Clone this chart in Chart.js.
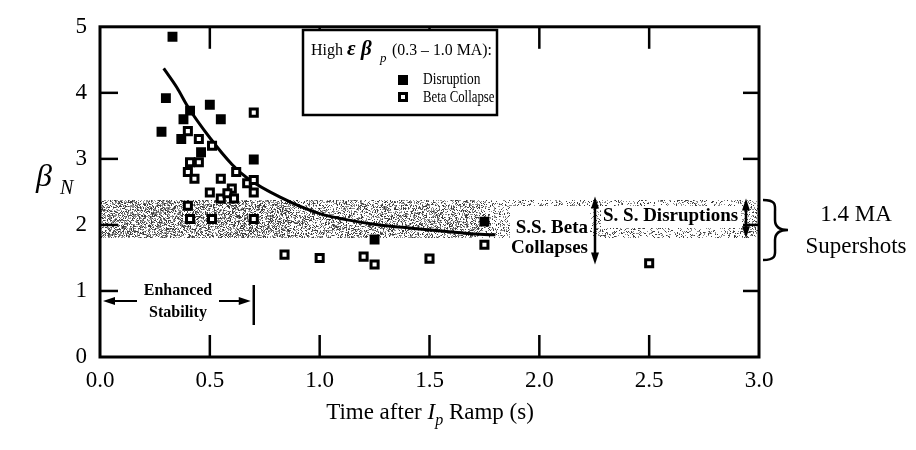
<!DOCTYPE html>
<html>
<head>
<meta charset="utf-8">
<script src="https://cdn.jsdelivr.net/npm/chart.js@4.4.1/dist/chart.umd.min.js"></script>
<style>
  html, body { margin: 0; padding: 0; background: #fff; }
  #wrap { width: 916px; height: 450px; }
</style>
</head>
<body>
<div id="wrap"><canvas id="c" width="916" height="450"></canvas></div>
<script>
// Time after the Ip ramp (s) and normalized beta for each shot
const disruptionT    = [0.33, 0.30, 0.41, 0.50, 0.38, 0.55, 0.28, 0.37, 0.46, 0.70, 1.25, 1.75];
const disruptionBeta = [4.85, 3.92, 3.73, 3.82, 3.60, 3.60, 3.41, 3.30, 3.10, 2.99, 1.78, 2.05];

const collapseT    = [0.70, 0.40, 0.45, 0.51, 0.41, 0.45, 0.40, 0.43, 0.55, 0.62, 0.67, 0.70, 0.70, 0.50,
                      0.55, 0.60, 0.58, 0.61, 0.40, 0.41, 0.51, 0.70, 0.84, 1.00, 1.20, 1.25, 1.50, 1.75, 2.50];
const collapseBeta = [3.70, 3.42, 3.30, 3.20, 2.95, 2.95, 2.80, 2.70, 2.70, 2.80, 2.63, 2.68, 2.49, 2.49,
                      2.40, 2.55, 2.48, 2.40, 2.29, 2.09, 2.09, 2.09, 1.55, 1.50, 1.52, 1.40, 1.49, 1.70, 1.42];

// Stability limit curve
const limitT    = [0.29, 0.35, 0.40, 0.50, 0.60, 0.67, 0.82, 1.00, 1.12, 1.27, 1.42, 1.58, 1.73, 1.80];
const limitBeta = [4.37, 4.08, 3.79, 3.32, 2.92, 2.71, 2.42, 2.17, 2.08, 2.00, 1.95, 1.90, 1.86, 1.85];

// Supershot operating band
const supershotBand = [1.80, 2.37];

// Axis ticks
const xTickValues = [0, 0.5, 1.0, 1.5, 2.0, 2.5, 3.0];
const xTickLabels = ['0.0', '0.5', '1.0', '1.5', '2.0', '2.5', '3.0'];
const yTickValues = [0, 1, 2, 3, 4, 5];
const yTickLabels = ['0', '1', '2', '3', '4', '5'];

const SERIF = '"Liberation Serif", "Times New Roman", serif';

function toPoints(xs, ys) { return xs.map((x, i) => ({ x: x, y: ys[i] })); }

// deterministic hash used for the halftone texture
function hash2(x, y) {
  let h = Math.imul(x, 374761393) ^ Math.imul(y, 668265263);
  h = Math.imul(h ^ (h >>> 13), 1274126177);
  h = h ^ (h >>> 16);
  return (h >>> 0) / 4294967296;
}

function arrowHead(ctx, x, y, dir, len, half) {
  // dir: 'l','r','u','d' -- tip at (x,y)
  ctx.beginPath();
  if (dir === 'l') { ctx.moveTo(x, y); ctx.lineTo(x + len, y - half); ctx.lineTo(x + len, y + half); }
  if (dir === 'r') { ctx.moveTo(x, y); ctx.lineTo(x - len, y - half); ctx.lineTo(x - len, y + half); }
  if (dir === 'u') { ctx.moveTo(x, y); ctx.lineTo(x - half, y + len); ctx.lineTo(x + half, y + len); }
  if (dir === 'd') { ctx.moveTo(x, y); ctx.lineTo(x - half, y - len); ctx.lineTo(x + half, y - len); }
  ctx.closePath();
  ctx.fill();
}

function vDoubleArrow(ctx, x, y1, y2) {
  ctx.lineWidth = 2.5;
  ctx.beginPath(); ctx.moveTo(x, y1 + 8); ctx.lineTo(x, y2 - 8); ctx.stroke();
  arrowHead(ctx, x, y1, 'u', 12, 4);
  arrowHead(ctx, x, y2, 'd', 12, 4);
}

// condensed text helper
function narrowText(ctx, text, x, y, sx) {
  ctx.save();
  ctx.translate(x, y);
  ctx.scale(sx, 1);
  ctx.fillText(text, 0, 0);
  ctx.restore();
}

const bandPlugin = {
  id: 'band',
  beforeDatasetsDraw(chart) {
    const { ctx, chartArea: a, scales: { x, y } } = chart;
    const top = Math.round(y.getPixelForValue(supershotBand[1]));
    const bot = Math.round(y.getPixelForValue(supershotBand[0]));
    const w = Math.round(a.right - a.left), h = bot - top;
    const off = document.createElement('canvas');
    off.width = w; off.height = h;
    const octx = off.getContext('2d');
    const img = octx.createImageData(w, h);
    for (let j = 0; j < h; j++) {
      for (let i = 0; i < w; i++) {
        const px = a.left + i;
        let p = px < 290 ? 0.52 : (px < 480 ? 0.40 : 0.24);
        const r = hash2(i + 7, j + 13);
        const k = (j * w + i) * 4;
        let v = 255;
        if (r < p) v = r < p * 0.45 ? 60 : 140;
        img.data[k] = v; img.data[k + 1] = v; img.data[k + 2] = v; img.data[k + 3] = 255;
      }
    }
    octx.putImageData(img, 0, 0);
    ctx.drawImage(off, a.left, top);
  }
};

const decorPlugin = {
  id: 'decor',
  afterDatasetsDraw(chart) {
    const { ctx, chartArea: a, scales: { x, y } } = chart;
    ctx.save();
    ctx.strokeStyle = '#000';
    ctx.fillStyle = '#000';

    // frame
    ctx.lineWidth = 3;
    ctx.strokeRect(a.left, a.top, a.right - a.left, a.bottom - a.top);

    // inward tick marks on all four sides
    ctx.lineWidth = 2.5;
    xTickValues.forEach(v => {
      if (v <= 0 || v >= 3) return;
      const px = x.getPixelForValue(v);
      ctx.beginPath(); ctx.moveTo(px, a.bottom); ctx.lineTo(px, a.bottom - 22); ctx.stroke();
      ctx.beginPath(); ctx.moveTo(px, a.top); ctx.lineTo(px, a.top + 22); ctx.stroke();
    });
    yTickValues.forEach(v => {
      if (v <= 0 || v >= 5) return;
      const py = y.getPixelForValue(v);
      ctx.beginPath(); ctx.moveTo(a.left, py); ctx.lineTo(a.left + 18, py); ctx.stroke();
      ctx.beginPath(); ctx.moveTo(a.right, py); ctx.lineTo(a.right - 16, py); ctx.stroke();
    });

    // legend box
    const lx = 303, ly = 30, lw = 194, lh = 85;
    ctx.fillStyle = '#fff';
    ctx.fillRect(lx, ly, lw, lh);
    ctx.fillStyle = '#000';
    ctx.lineWidth = 2.5;
    ctx.strokeRect(lx, ly, lw, lh);
    ctx.textBaseline = 'alphabetic';
    ctx.textAlign = 'left';
    const base1 = 55;
    ctx.font = '16px ' + SERIF;
    ctx.fillText('High', 311, base1);
    ctx.font = 'italic bold 21px ' + SERIF;
    ctx.fillText('\u03B5', 347, base1);
    ctx.fillText('\u03B2', 361, base1);
    ctx.font = 'italic 13px ' + SERIF;
    ctx.fillText('p', 380, base1 + 7);
    ctx.font = '16px ' + SERIF;
    narrowText(ctx, '(0.3 \u2013 1.0 MA):', 392, base1, 0.99);

    // legend markers
    ctx.fillRect(403 - 5, 80 - 5, 10, 10);
    ctx.lineWidth = 3;
    ctx.strokeRect(403 - 3.5, 97 - 3.5, 7, 7);
    ctx.font = '16px ' + SERIF;
    ctx.textBaseline = 'middle';
    narrowText(ctx, 'Disruption', 423, 80, 0.84);
    narrowText(ctx, 'Beta Collapse', 423, 98, 0.8);

    // enhanced stability window
    const ex = x.getPixelForValue(0.7);
    const ey = 301;
    ctx.lineWidth = 2;
    ctx.beginPath(); ctx.moveTo(a.left + 6, ey); ctx.lineTo(137, ey); ctx.stroke();
    arrowHead(ctx, a.left + 3, ey, 'l', 12, 4);
    ctx.beginPath(); ctx.moveTo(219, ey); ctx.lineTo(ex - 10, ey); ctx.stroke();
    arrowHead(ctx, ex - 3, ey, 'r', 12, 4);
    ctx.lineWidth = 2.5;
    ctx.beginPath(); ctx.moveTo(ex, 285); ctx.lineTo(ex, 325); ctx.stroke();
    ctx.font = 'bold 16px ' + SERIF;
    ctx.textAlign = 'center';
    ctx.textBaseline = 'middle';
    ctx.fillText('Enhanced', 178, 291);
    ctx.fillText('Stability', 178, 313);

    // steady-state labels
    ctx.fillStyle = '#fff';
    ctx.fillRect(510, 206, 80, 56);
    ctx.fillRect(601, 206, 140, 22);
    ctx.fillStyle = '#000';
    ctx.font = 'bold 19px ' + SERIF;
    ctx.textAlign = 'right';
    ctx.fillText('S.S. Beta', 588, 228);
    ctx.fillText('Collapses', 588, 248);
    ctx.textAlign = 'left';
    ctx.fillText('S. S. Disruptions', 603, 216);
    vDoubleArrow(ctx, 595, y.getPixelForValue(2.43), y.getPixelForValue(1.40));
    vDoubleArrow(ctx, 746, y.getPixelForValue(2.40), y.getPixelForValue(1.80));

    // brace for the supershot range
    const bx = 763, bTop = 200, bBot = 260, bMid = 230, bTip = 788;
    ctx.lineWidth = 2.5;
    ctx.beginPath();
    ctx.moveTo(bx, bTop);
    ctx.bezierCurveTo(bx + 14, bTop, bx + 12, bTop + 6, bx + 12, bTop + 12);
    ctx.lineTo(bx + 12, bMid - 10);
    ctx.bezierCurveTo(bx + 12, bMid - 2, bx + 18, bMid, bTip, bMid);
    ctx.bezierCurveTo(bx + 18, bMid, bx + 12, bMid + 2, bx + 12, bMid + 10);
    ctx.lineTo(bx + 12, bBot - 12);
    ctx.bezierCurveTo(bx + 12, bBot - 6, bx + 14, bBot, bx, bBot);
    ctx.stroke();
    ctx.font = '23px ' + SERIF;
    ctx.textAlign = 'center';
    ctx.fillText('1.4 MA', 856, 215);
    ctx.fillText('Supershots', 856, 247);

    // y-axis title
    ctx.textAlign = 'left';
    ctx.textBaseline = 'alphabetic';
    ctx.font = 'italic 32px ' + SERIF;
    ctx.fillText('\u03B2', 36, 186);
    ctx.font = 'italic 20px ' + SERIF;
    ctx.fillText('N', 60, 194);

    // x-axis title
    const parts = [
      ['Time after ', '23px ' + SERIF, 0],
      ['I', 'italic 23px ' + SERIF, 0],
      ['p', 'italic 16px ' + SERIF, 6],
      [' Ramp (s)', '23px ' + SERIF, 0]
    ];
    let tw = 0;
    parts.forEach(p => { ctx.font = p[1]; tw += ctx.measureText(p[0]).width; });
    let tx = 430 - tw / 2;
    const tb = 419;
    parts.forEach(p => { ctx.font = p[1]; ctx.fillText(p[0], tx, tb + p[2]); tx += ctx.measureText(p[0]).width; });

    ctx.restore();
  }
};

new Chart(document.getElementById('c'), {
  type: 'scatter',
  data: {
    datasets: [
      {
        label: 'Limit',
        type: 'line',
        data: toPoints(limitT, limitBeta),
        borderColor: '#000',
        borderWidth: 3,
        pointRadius: 0,
        fill: false,
        cubicInterpolationMode: 'monotone',
        order: 3
      },
      {
        label: 'Disruption',
        data: toPoints(disruptionT, disruptionBeta),
        pointStyle: 'rect',
        pointRadius: 7,
        backgroundColor: '#000',
        borderColor: '#000',
        borderWidth: 0,
        order: 2
      },
      {
        label: 'Beta Collapse',
        data: toPoints(collapseT, collapseBeta),
        pointStyle: 'rect',
        pointRadius: 5,
        backgroundColor: '#fff',
        borderColor: '#000',
        borderWidth: 3,
        order: 1
      }
    ]
  },
  options: {
    responsive: false,
    devicePixelRatio: 1,
    animation: false,
    layout: { padding: { top: 18, right: 157, left: 0, bottom: 0 } },
    plugins: { legend: { display: false }, tooltip: { enabled: false }, title: { display: false } },
    scales: {
      x: {
        type: 'linear',
        min: 0, max: 3,
        afterBuildTicks: s => { s.ticks = xTickValues.map(v => ({ value: v })); },
        afterFit: s => { s.height = 93; },
        grid: { display: false, drawTicks: false },
        border: { display: false },
        ticks: {
          color: '#000',
          font: { family: SERIF, size: 23 },
          padding: 10,
          maxRotation: 0,
          callback: (v) => { const i = xTickValues.indexOf(v); return i >= 0 ? xTickLabels[i] : ''; }
        }
      },
      y: {
        type: 'linear',
        min: 0, max: 5,
        afterBuildTicks: s => { s.ticks = yTickValues.map(v => ({ value: v })); },
        afterFit: s => { s.width = 100; },
        grid: { display: false, drawTicks: false },
        border: { display: false },
        ticks: {
          color: '#000',
          font: { family: SERIF, size: 23 },
          padding: 13,
          callback: (v) => { const i = yTickValues.indexOf(v); return i >= 0 ? yTickLabels[i] : ''; }
        }
      }
    }
  },
  plugins: [bandPlugin, decorPlugin]
});
</script>
</body>
</html>
